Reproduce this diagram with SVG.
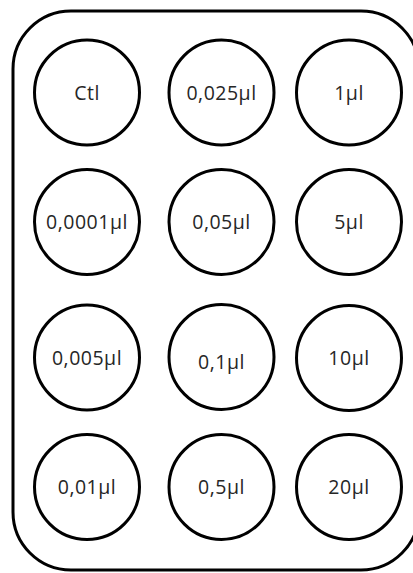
<svg xmlns="http://www.w3.org/2000/svg" width="413" height="573" viewBox="0 0 413 573">
  <style>
    .plate { fill: #ffffff; stroke: #000000; stroke-width: 3; }
    .well { fill: #ffffff; stroke: #000000; stroke-width: 3; }
    .label { font-family: "Open Sans", "Liberation Sans", sans-serif; font-size: 19.5px; letter-spacing: 0.5px; fill: #262626; text-anchor: middle; }
  </style>
  <rect width="413" height="573" fill="#ffffff"/>
  <!-- plate outline (right side runs past the canvas edge) -->
  <g id="plate">
    <rect class="plate" x="13" y="11" width="406" height="559" rx="58" ry="58"/>
  </g>
  <g id="connectors"/>
  <!-- column 1 -->
  <g id="well-ctl"><circle class="well" cx="87" cy="92.5" r="52.5"/><text class="label" x="87" y="99.5">Ctl</text></g>
  <g id="well-0-0001"><circle class="well" cx="87" cy="222" r="52.5"/><text class="label" x="87" y="229">0,0001µl</text></g>
  <g id="well-0-005"><circle class="well" cx="87" cy="357.5" r="52.5"/><text class="label" x="87" y="364.5">0,005µl</text></g>
  <g id="well-0-01"><circle class="well" cx="87" cy="487" r="52.5"/><text class="label" x="87" y="494">0,01µl</text></g>
  <!-- column 2 -->
  <g id="well-0-025"><circle class="well" cx="221.5" cy="92.5" r="52.5"/><text class="label" x="221.5" y="99.5">0,025µl</text></g>
  <g id="well-0-05"><circle class="well" cx="221.5" cy="222" r="52.5"/><text class="label" x="221.5" y="229">0,05µl</text></g>
  <g id="well-0-1"><circle class="well" cx="221.5" cy="357" r="52.5"/><text class="label" x="221.5" y="368.5">0,1µl</text></g>
  <g id="well-0-5"><circle class="well" cx="221.5" cy="487" r="52.5"/><text class="label" x="221.5" y="494">0,5µl</text></g>
  <!-- column 3 -->
  <g id="well-1"><circle class="well" cx="349" cy="92.5" r="52.5"/><text class="label" x="349" y="99.5">1µl</text></g>
  <g id="well-5"><circle class="well" cx="349" cy="222" r="52.5"/><text class="label" x="349" y="229">5µl</text></g>
  <g id="well-10"><circle class="well" cx="349" cy="358" r="52.5"/><text class="label" x="349" y="365">10µl</text></g>
  <g id="well-20"><circle class="well" cx="349" cy="487" r="52.5"/><text class="label" x="349" y="494">20µl</text></g>
</svg>
